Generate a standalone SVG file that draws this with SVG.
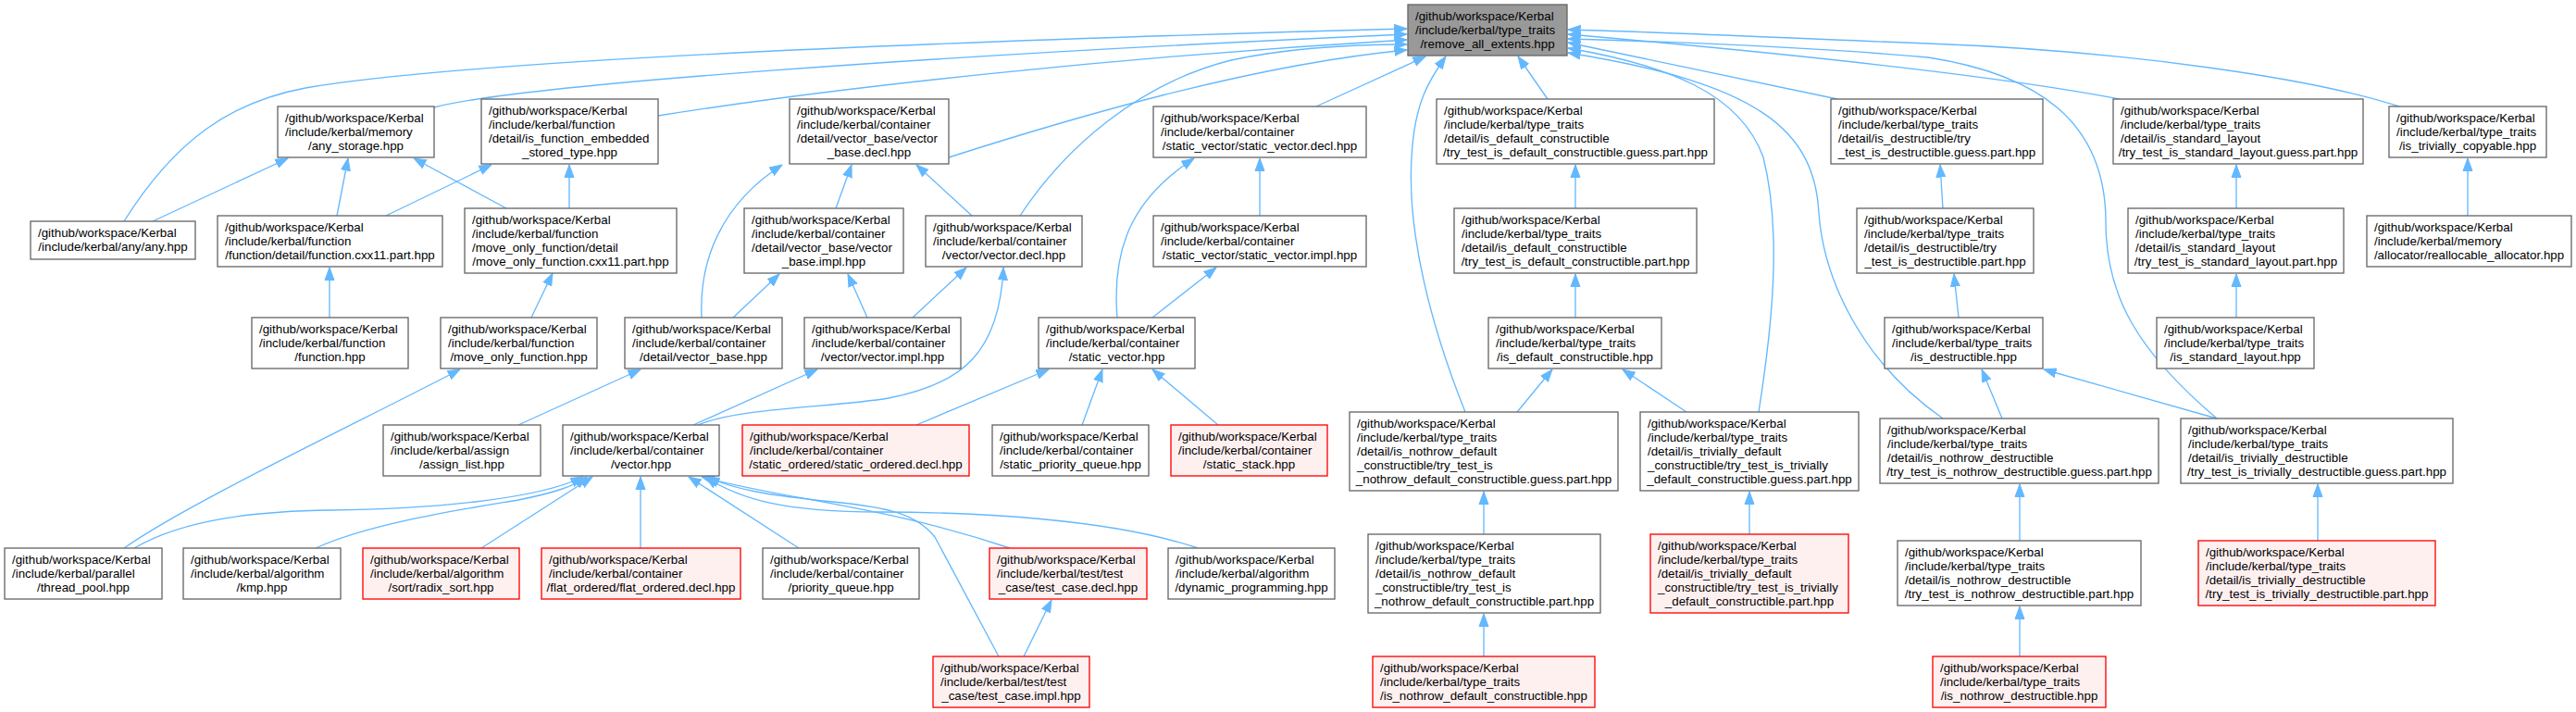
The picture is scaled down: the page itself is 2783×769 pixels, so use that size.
<svg xmlns="http://www.w3.org/2000/svg" width="2783" height="769" viewBox="0 0 2783 769">
<style>
rect{fill:#fff;stroke:#666;stroke-width:1.33}
.r rect{fill:#fff0f0;stroke:#f00}
.root rect{fill:#999}
text{font-family:'Liberation Sans',Arial,sans-serif;font-size:13.33px;fill:#000}
.m{text-anchor:middle}
.e path{fill:none;stroke:#63b8ff;stroke-width:1.33;marker-end:url(#a)}
</style>
<defs>
<marker id="a" viewBox="0 0 14 12" markerWidth="14" markerHeight="12" refX="13.5" refY="6" orient="auto" markerUnits="userSpaceOnUse"><path d="M0,1 L13.5,6 L0,11 Z" fill="#63b8ff" stroke="#63b8ff"/></marker>
</defs>
<rect x="0" y="0" width="2783" height="769" style="fill:#fff;stroke:none"/>
<g class="e" id="edges">
<path d="M134,239 C190,150 250,110 330,95 C500,66 1000,45 1520,31"/>
<path d="M469,116 C560,92 1000,60 1520,37"/>
<path d="M711,125 C900,95 1200,62 1520,43"/>
<path d="M1102,233 C1150,160 1230,90 1330,65 C1400,50 1470,48 1520,48"/>
<path d="M1025,170 C1150,130 1350,70 1520,54"/>
<path d="M1422,115 L1540,61"/>
<path d="M1583,445 C1545,350 1520,250 1525,170 C1528,110 1545,85 1562,61"/>
<path d="M1672,107 L1640,61"/>
<path d="M1900,445 C1915,350 1925,250 1905,170 C1880,100 1800,70 1694,52"/>
<path d="M2099,452 C2010,390 1970,300 1965,230 C1960,140 1900,90 1694,57"/>
<path d="M1985,107 L1694,46"/>
<path d="M2290,107 C2150,80 1900,55 1694,37"/>
<path d="M2592,115 C2500,85 2300,55 2083,47 C1900,40 1780,34 1694,32"/>
<path d="M2395,452 C2310,380 2275,320 2275,240 C2275,130 2200,80 2083,62 C1950,50 1800,45 1694,42"/>
<path d="M165,239 L311,171"/>
<path d="M364,233 L376,171"/>
<path d="M547,225 L447,171"/>
<path d="M417,233 L531,178"/>
<path d="M615,225 L615,178"/>
<path d="M356,343 L356,289"/>
<path d="M574,343 L597,295"/>
<path d="M134,592 C200,545 380,460 497,399"/>
<path d="M560,459 L692,399"/>
<path d="M145,592 C200,560 280,552 357,551 C460,550 580,540 630,515"/>
<path d="M341,592 C400,565 500,550 560,540 C600,532 620,525 634,515"/>
<path d="M520,592 L640,515"/>
<path d="M692,592 L692,515"/>
<path d="M863,592 L744,515"/>
<path d="M1091,592 C950,545 850,540 758,515"/>
<path d="M1294,592 C1200,560 1050,553 950,553 C850,553 800,540 762,515"/>
<path d="M1079,709 L1010,580 C990,555 960,548 900,542 C830,535 790,528 764,515"/>
<path d="M1106,709 L1136,648"/>
<path d="M758,343 C755,280 780,220 845,178"/>
<path d="M903,225 L920,178"/>
<path d="M1050,233 L990,178"/>
<path d="M792,343 L842,296"/>
<path d="M937,343 L916,296"/>
<path d="M986,343 L1044,289"/>
<path d="M754,459 C800,440 900,440 960,430 C1040,415 1080,380 1084,289"/>
<path d="M749,459 L883,399"/>
<path d="M1207,343 C1200,260 1230,210 1290,171"/>
<path d="M1361,233 L1361,171"/>
<path d="M1245,343 L1314,289"/>
<path d="M990,459 L1133,399"/>
<path d="M1169,459 L1191,399"/>
<path d="M1316,459 L1245,399"/>
<path d="M1702,225 L1702,178"/>
<path d="M1702,343 L1702,296"/>
<path d="M1639,445 L1677,399"/>
<path d="M1822,445 L1753,399"/>
<path d="M1603,577 L1603,531"/>
<path d="M1603,709 L1603,663"/>
<path d="M1890,577 L1890,531"/>
<path d="M2099,225 L2096,178"/>
<path d="M2116,343 L2111,296"/>
<path d="M2163,452 L2141,399"/>
<path d="M2395,452 L2208,399"/>
<path d="M2182,584 L2182,523"/>
<path d="M2182,709 L2182,655"/>
<path d="M2504,584 L2504,523"/>
<path d="M2416,225 L2416,178"/>
<path d="M2416,343 L2416,296"/>
<path d="M2666,233 L2666,171"/>
</g>
<g id="root" class="root"><rect x="1521" y="5" width="172" height="55"/><text x="1529" y="21.5">/github/workspace/Kerbal</text><text x="1529" y="36.5">/include/kerbal/type_traits</text><text class="m" x="1607" y="51.5">/remove_all_extents.hpp</text></g>
<g id="any_storage"><rect x="300" y="115" width="169" height="55"/><text x="308" y="131.5">/github/workspace/Kerbal</text><text x="308" y="146.5">/include/kerbal/memory</text><text class="m" x="384.5" y="161.5">/any_storage.hpp</text></g>
<g id="is_function_embedded"><rect x="520" y="107" width="191" height="70"/><text x="528" y="123.5">/github/workspace/Kerbal</text><text x="528" y="138.5">/include/kerbal/function</text><text x="528" y="153.5">/detail/is_function_embedded</text><text class="m" x="615.5" y="168.5">_stored_type.hpp</text></g>
<g id="vector_base_decl"><rect x="853" y="107" width="172" height="70"/><text x="861" y="123.5">/github/workspace/Kerbal</text><text x="861" y="138.5">/include/kerbal/container</text><text x="861" y="153.5">/detail/vector_base/vector</text><text class="m" x="939" y="168.5">_base.decl.hpp</text></g>
<g id="static_vector_decl"><rect x="1246" y="115" width="230" height="55"/><text x="1254" y="131.5">/github/workspace/Kerbal</text><text x="1254" y="146.5">/include/kerbal/container</text><text class="m" x="1361" y="161.5">/static_vector/static_vector.decl.hpp</text></g>
<g id="is_default_constructible_guess"><rect x="1552" y="107" width="300" height="70"/><text x="1560" y="123.5">/github/workspace/Kerbal</text><text x="1560" y="138.5">/include/kerbal/type_traits</text><text x="1560" y="153.5">/detail/is_default_constructible</text><text class="m" x="1702" y="168.5">/try_test_is_default_constructible.guess.part.hpp</text></g>
<g id="is_destructible_guess"><rect x="1978" y="107" width="229" height="70"/><text x="1986" y="123.5">/github/workspace/Kerbal</text><text x="1986" y="138.5">/include/kerbal/type_traits</text><text x="1986" y="153.5">/detail/is_destructible/try</text><text class="m" x="2092.5" y="168.5">_test_is_destructible.guess.part.hpp</text></g>
<g id="is_standard_layout_guess"><rect x="2283" y="107" width="270" height="70"/><text x="2291" y="123.5">/github/workspace/Kerbal</text><text x="2291" y="138.5">/include/kerbal/type_traits</text><text x="2291" y="153.5">/detail/is_standard_layout</text><text class="m" x="2418" y="168.5">/try_test_is_standard_layout.guess.part.hpp</text></g>
<g id="is_trivially_copyable"><rect x="2581" y="115" width="170" height="55"/><text x="2589" y="131.5">/github/workspace/Kerbal</text><text x="2589" y="146.5">/include/kerbal/type_traits</text><text class="m" x="2666" y="161.5">/is_trivially_copyable.hpp</text></g>
<g id="any_hpp"><rect x="33" y="239" width="178" height="41"/><text x="41" y="256">/github/workspace/Kerbal</text><text class="m" x="122" y="271">/include/kerbal/any/any.hpp</text></g>
<g id="function_cxx11"><rect x="235" y="233" width="243" height="55"/><text x="243" y="249.5">/github/workspace/Kerbal</text><text x="243" y="264.5">/include/kerbal/function</text><text class="m" x="356.5" y="279.5">/function/detail/function.cxx11.part.hpp</text></g>
<g id="move_only_function_cxx11"><rect x="502" y="225" width="229" height="70"/><text x="510" y="241.5">/github/workspace/Kerbal</text><text x="510" y="256.5">/include/kerbal/function</text><text x="510" y="271.5">/move_only_function/detail</text><text class="m" x="616.5" y="286.5">/move_only_function.cxx11.part.hpp</text></g>
<g id="vector_base_impl"><rect x="804" y="225" width="172" height="70"/><text x="812" y="241.5">/github/workspace/Kerbal</text><text x="812" y="256.5">/include/kerbal/container</text><text x="812" y="271.5">/detail/vector_base/vector</text><text class="m" x="890" y="286.5">_base.impl.hpp</text></g>
<g id="vector_decl"><rect x="1000" y="233" width="169" height="55"/><text x="1008" y="249.5">/github/workspace/Kerbal</text><text x="1008" y="264.5">/include/kerbal/container</text><text class="m" x="1084.5" y="279.5">/vector/vector.decl.hpp</text></g>
<g id="static_vector_impl"><rect x="1246" y="233" width="230" height="55"/><text x="1254" y="249.5">/github/workspace/Kerbal</text><text x="1254" y="264.5">/include/kerbal/container</text><text class="m" x="1361" y="279.5">/static_vector/static_vector.impl.hpp</text></g>
<g id="is_default_constructible_part"><rect x="1571" y="225" width="262" height="70"/><text x="1579" y="241.5">/github/workspace/Kerbal</text><text x="1579" y="256.5">/include/kerbal/type_traits</text><text x="1579" y="271.5">/detail/is_default_constructible</text><text class="m" x="1702" y="286.5">/try_test_is_default_constructible.part.hpp</text></g>
<g id="is_destructible_part"><rect x="2006" y="225" width="191" height="70"/><text x="2014" y="241.5">/github/workspace/Kerbal</text><text x="2014" y="256.5">/include/kerbal/type_traits</text><text x="2014" y="271.5">/detail/is_destructible/try</text><text class="m" x="2101.5" y="286.5">_test_is_destructible.part.hpp</text></g>
<g id="is_standard_layout_part"><rect x="2299" y="225" width="233" height="70"/><text x="2307" y="241.5">/github/workspace/Kerbal</text><text x="2307" y="256.5">/include/kerbal/type_traits</text><text x="2307" y="271.5">/detail/is_standard_layout</text><text class="m" x="2415.5" y="286.5">/try_test_is_standard_layout.part.hpp</text></g>
<g id="reallocable_allocator"><rect x="2557" y="233" width="221" height="55"/><text x="2565" y="249.5">/github/workspace/Kerbal</text><text x="2565" y="264.5">/include/kerbal/memory</text><text class="m" x="2667.5" y="279.5">/allocator/reallocable_allocator.hpp</text></g>
<g id="function_hpp"><rect x="272" y="343" width="169" height="55"/><text x="280" y="359.5">/github/workspace/Kerbal</text><text x="280" y="374.5">/include/kerbal/function</text><text class="m" x="356.5" y="389.5">/function.hpp</text></g>
<g id="move_only_function_hpp"><rect x="476" y="343" width="169" height="55"/><text x="484" y="359.5">/github/workspace/Kerbal</text><text x="484" y="374.5">/include/kerbal/function</text><text class="m" x="560.5" y="389.5">/move_only_function.hpp</text></g>
<g id="vector_base_hpp"><rect x="675" y="343" width="170" height="55"/><text x="683" y="359.5">/github/workspace/Kerbal</text><text x="683" y="374.5">/include/kerbal/container</text><text class="m" x="760" y="389.5">/detail/vector_base.hpp</text></g>
<g id="vector_impl"><rect x="869" y="343" width="169" height="55"/><text x="877" y="359.5">/github/workspace/Kerbal</text><text x="877" y="374.5">/include/kerbal/container</text><text class="m" x="953.5" y="389.5">/vector/vector.impl.hpp</text></g>
<g id="static_vector_hpp"><rect x="1122" y="343" width="169" height="55"/><text x="1130" y="359.5">/github/workspace/Kerbal</text><text x="1130" y="374.5">/include/kerbal/container</text><text class="m" x="1206.5" y="389.5">/static_vector.hpp</text></g>
<g id="is_default_constructible_hpp"><rect x="1608" y="343" width="187" height="55"/><text x="1616" y="359.5">/github/workspace/Kerbal</text><text x="1616" y="374.5">/include/kerbal/type_traits</text><text class="m" x="1701.5" y="389.5">/is_default_constructible.hpp</text></g>
<g id="is_destructible_hpp"><rect x="2036" y="343" width="171" height="55"/><text x="2044" y="359.5">/github/workspace/Kerbal</text><text x="2044" y="374.5">/include/kerbal/type_traits</text><text class="m" x="2121.5" y="389.5">/is_destructible.hpp</text></g>
<g id="is_standard_layout_hpp"><rect x="2330" y="343" width="170" height="55"/><text x="2338" y="359.5">/github/workspace/Kerbal</text><text x="2338" y="374.5">/include/kerbal/type_traits</text><text class="m" x="2415" y="389.5">/is_standard_layout.hpp</text></g>
<g id="assign_list"><rect x="414" y="459" width="170" height="55"/><text x="422" y="475.5">/github/workspace/Kerbal</text><text x="422" y="490.5">/include/kerbal/assign</text><text class="m" x="499" y="505.5">/assign_list.hpp</text></g>
<g id="vector_hpp"><rect x="608" y="459" width="169" height="55"/><text x="616" y="475.5">/github/workspace/Kerbal</text><text x="616" y="490.5">/include/kerbal/container</text><text class="m" x="692.5" y="505.5">/vector.hpp</text></g>
<g id="static_ordered_decl" class="r"><rect x="802" y="459" width="245" height="55"/><text x="810" y="475.5">/github/workspace/Kerbal</text><text x="810" y="490.5">/include/kerbal/container</text><text class="m" x="924.5" y="505.5">/static_ordered/static_ordered.decl.hpp</text></g>
<g id="static_priority_queue"><rect x="1072" y="459" width="169" height="55"/><text x="1080" y="475.5">/github/workspace/Kerbal</text><text x="1080" y="490.5">/include/kerbal/container</text><text class="m" x="1156.5" y="505.5">/static_priority_queue.hpp</text></g>
<g id="static_stack" class="r"><rect x="1265" y="459" width="169" height="55"/><text x="1273" y="475.5">/github/workspace/Kerbal</text><text x="1273" y="490.5">/include/kerbal/container</text><text class="m" x="1349.5" y="505.5">/static_stack.hpp</text></g>
<g id="nothrow_default_guess"><rect x="1458" y="445" width="290" height="85"/><text x="1466" y="461.5">/github/workspace/Kerbal</text><text x="1466" y="476.5">/include/kerbal/type_traits</text><text x="1466" y="491.5">/detail/is_nothrow_default</text><text x="1466" y="506.5">_constructible/try_test_is</text><text class="m" x="1603" y="521.5">_nothrow_default_constructible.guess.part.hpp</text></g>
<g id="trivially_default_guess"><rect x="1772" y="445" width="236" height="85"/><text x="1780" y="461.5">/github/workspace/Kerbal</text><text x="1780" y="476.5">/include/kerbal/type_traits</text><text x="1780" y="491.5">/detail/is_trivially_default</text><text x="1780" y="506.5">_constructible/try_test_is_trivially</text><text class="m" x="1890" y="521.5">_default_constructible.guess.part.hpp</text></g>
<g id="nothrow_destructible_guess"><rect x="2031" y="452" width="301" height="70"/><text x="2039" y="468.5">/github/workspace/Kerbal</text><text x="2039" y="483.5">/include/kerbal/type_traits</text><text x="2039" y="498.5">/detail/is_nothrow_destructible</text><text class="m" x="2181.5" y="513.5">/try_test_is_nothrow_destructible.guess.part.hpp</text></g>
<g id="trivially_destructible_guess"><rect x="2356" y="452" width="294" height="70"/><text x="2364" y="468.5">/github/workspace/Kerbal</text><text x="2364" y="483.5">/include/kerbal/type_traits</text><text x="2364" y="498.5">/detail/is_trivially_destructible</text><text class="m" x="2503" y="513.5">/try_test_is_trivially_destructible.guess.part.hpp</text></g>
<g id="thread_pool"><rect x="5" y="592" width="170" height="55"/><text x="13" y="608.5">/github/workspace/Kerbal</text><text x="13" y="623.5">/include/kerbal/parallel</text><text class="m" x="90" y="638.5">/thread_pool.hpp</text></g>
<g id="kmp"><rect x="198" y="592" width="170" height="55"/><text x="206" y="608.5">/github/workspace/Kerbal</text><text x="206" y="623.5">/include/kerbal/algorithm</text><text class="m" x="283" y="638.5">/kmp.hpp</text></g>
<g id="radix_sort" class="r"><rect x="392" y="592" width="169" height="55"/><text x="400" y="608.5">/github/workspace/Kerbal</text><text x="400" y="623.5">/include/kerbal/algorithm</text><text class="m" x="476.5" y="638.5">/sort/radix_sort.hpp</text></g>
<g id="flat_ordered_decl" class="r"><rect x="585" y="592" width="215" height="55"/><text x="593" y="608.5">/github/workspace/Kerbal</text><text x="593" y="623.5">/include/kerbal/container</text><text class="m" x="692.5" y="638.5">/flat_ordered/flat_ordered.decl.hpp</text></g>
<g id="priority_queue"><rect x="824" y="592" width="169" height="55"/><text x="832" y="608.5">/github/workspace/Kerbal</text><text x="832" y="623.5">/include/kerbal/container</text><text class="m" x="908.5" y="638.5">/priority_queue.hpp</text></g>
<g id="test_case_decl" class="r"><rect x="1069" y="592" width="170" height="55"/><text x="1077" y="608.5">/github/workspace/Kerbal</text><text x="1077" y="623.5">/include/kerbal/test/test</text><text class="m" x="1154" y="638.5">_case/test_case.decl.hpp</text></g>
<g id="dynamic_programming"><rect x="1262" y="592" width="180" height="55"/><text x="1270" y="608.5">/github/workspace/Kerbal</text><text x="1270" y="623.5">/include/kerbal/algorithm</text><text class="m" x="1352" y="638.5">/dynamic_programming.hpp</text></g>
<g id="nothrow_default_part"><rect x="1478" y="577" width="251" height="85"/><text x="1486" y="593.5">/github/workspace/Kerbal</text><text x="1486" y="608.5">/include/kerbal/type_traits</text><text x="1486" y="623.5">/detail/is_nothrow_default</text><text x="1486" y="638.5">_constructible/try_test_is</text><text class="m" x="1603.5" y="653.5">_nothrow_default_constructible.part.hpp</text></g>
<g id="trivially_default_part" class="r"><rect x="1783" y="577" width="214" height="85"/><text x="1791" y="593.5">/github/workspace/Kerbal</text><text x="1791" y="608.5">/include/kerbal/type_traits</text><text x="1791" y="623.5">/detail/is_trivially_default</text><text x="1791" y="638.5">_constructible/try_test_is_trivially</text><text class="m" x="1890" y="653.5">_default_constructible.part.hpp</text></g>
<g id="nothrow_destructible_part"><rect x="2050" y="584" width="263" height="70"/><text x="2058" y="600.5">/github/workspace/Kerbal</text><text x="2058" y="615.5">/include/kerbal/type_traits</text><text x="2058" y="630.5">/detail/is_nothrow_destructible</text><text class="m" x="2181.5" y="645.5">/try_test_is_nothrow_destructible.part.hpp</text></g>
<g id="trivially_destructible_part" class="r"><rect x="2375" y="584" width="256" height="70"/><text x="2383" y="600.5">/github/workspace/Kerbal</text><text x="2383" y="615.5">/include/kerbal/type_traits</text><text x="2383" y="630.5">/detail/is_trivially_destructible</text><text class="m" x="2503" y="645.5">/try_test_is_trivially_destructible.part.hpp</text></g>
<g id="test_case_impl" class="r"><rect x="1008" y="709" width="169" height="55"/><text x="1016" y="725.5">/github/workspace/Kerbal</text><text x="1016" y="740.5">/include/kerbal/test/test</text><text class="m" x="1092.5" y="755.5">_case/test_case.impl.hpp</text></g>
<g id="nothrow_default_hpp" class="r"><rect x="1483" y="709" width="240" height="55"/><text x="1491" y="725.5">/github/workspace/Kerbal</text><text x="1491" y="740.5">/include/kerbal/type_traits</text><text class="m" x="1603" y="755.5">/is_nothrow_default_constructible.hpp</text></g>
<g id="nothrow_destructible_hpp" class="r"><rect x="2088" y="709" width="187" height="55"/><text x="2096" y="725.5">/github/workspace/Kerbal</text><text x="2096" y="740.5">/include/kerbal/type_traits</text><text class="m" x="2181.5" y="755.5">/is_nothrow_destructible.hpp</text></g>
</svg>
